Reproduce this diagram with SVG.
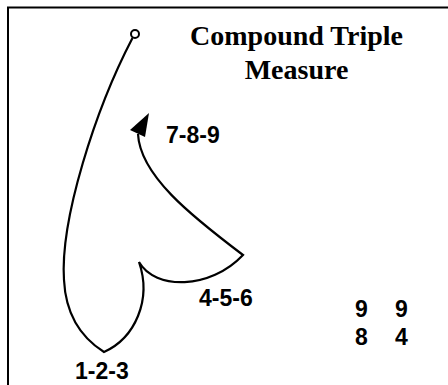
<svg xmlns="http://www.w3.org/2000/svg" width="448" height="385" viewBox="0 0 448 385">
<style>
.frame{fill:none;stroke:#000;stroke-width:2}
.conn{fill:none;stroke:#000;stroke-width:2.2;stroke-linejoin:miter}
.title{font-family:"Liberation Serif","Times New Roman",serif;font-weight:bold;font-size:28px;fill:#000;text-anchor:middle}
.lbl{font-family:"Liberation Sans",Arial,sans-serif;font-weight:bold;font-size:23px;fill:#000}
</style>
<rect class="frame" x="8" y="7.5" width="460" height="400"/>
<g id="title">
<text class="title" x="296.5" y="45">Compound Triple</text>
<text class="title" x="296.5" y="79">Measure</text>
</g>
<g id="connectors">
<circle cx="135" cy="34" r="4" fill="#fff" stroke="#000" stroke-width="2"/>
<path class="conn" d="M132.5,38 C95,110 60,220 64,280 C66,320 85,340 104,352 C135,338 152,300 139,262 C155,290 210,290 243,255 C190,215 140,175 138,134"/>
<polygon points="149,113 130,130 145,137" fill="#000"/>
</g>
<g id="beat1"><text class="lbl" x="75" y="379">1-2-3</text></g>
<g id="beat2"><text class="lbl" x="199" y="306">4-5-6</text></g>
<g id="beat3"><text class="lbl" x="166" y="143">7-8-9</text></g>
<g id="meter">
<text class="lbl" x="355" y="316.5">9</text>
<text class="lbl" x="395" y="316.5">9</text>
<text class="lbl" x="355" y="345">8</text>
<text class="lbl" x="395" y="345">4</text>
</g>
</svg>
